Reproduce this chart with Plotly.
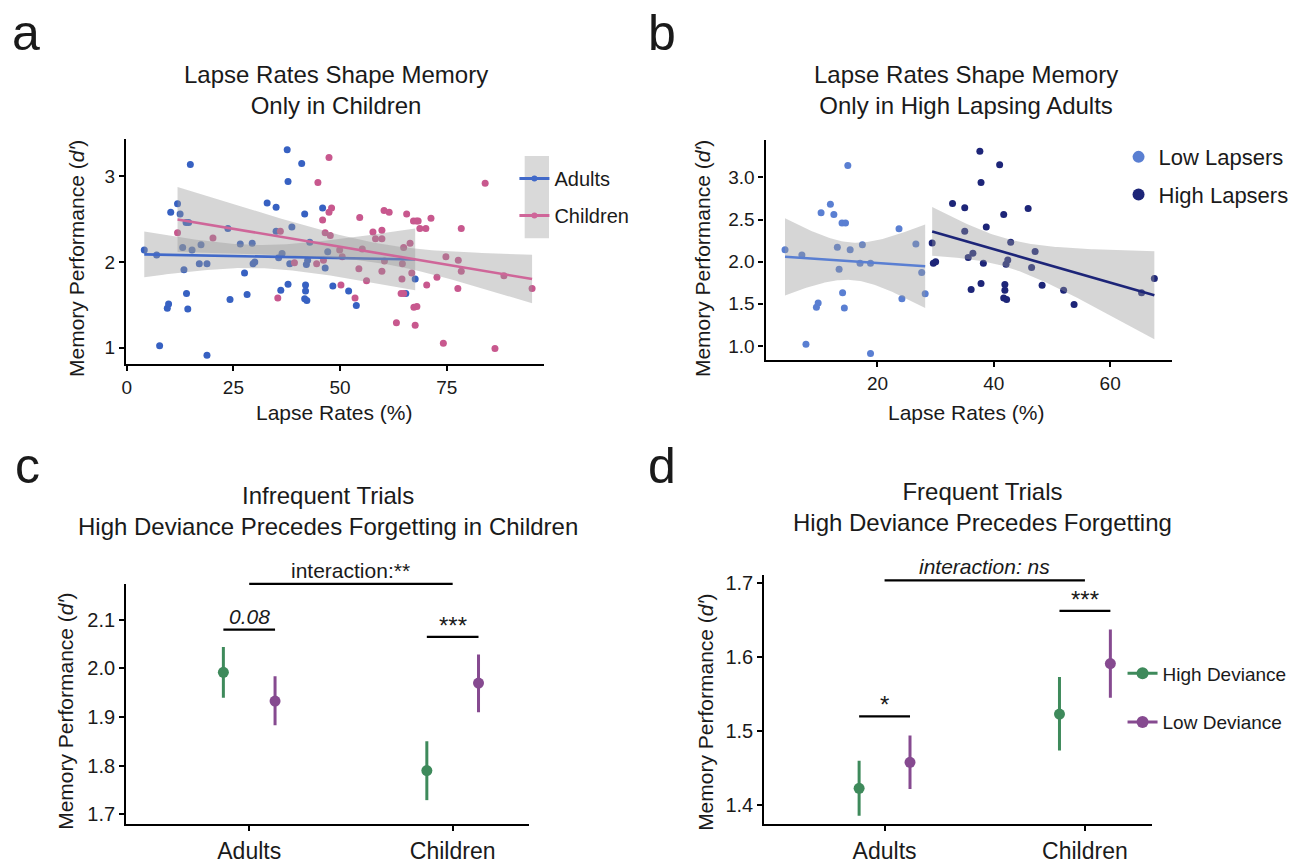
import numpy as np
import plotly.graph_objects as go

# ---------------- data ----------------
adult_lapse = [4.1, 7.0, 7.7, 9.5, 9.8, 10.3, 11.9, 12.5, 13.1, 13.4, 13.9, 14.5, 14.0, 14.3,
               14.9, 15.3, 17.0, 17.4, 18.8, 18.8, 23.7, 24.2, 26.6, 27.6, 28.2, 29.4, 29.6,
               30.0, 32.9, 35.0, 35.0, 35.6, 36.1, 36.4, 37.6, 37.8, 37.8, 38.2, 38.7, 41.0,
               41.7, 41.9, 41.9, 41.7, 42.2, 42.1, 42.4, 42.9, 45.9, 46.5, 47.1, 48.3, 52.0,
               53.8, 65.4, 67.6]
adult_dprime = [2.14, 2.08, 1.02, 1.46, 1.51, 2.58, 2.68, 2.56, 2.17, 1.91, 2.46, 2.46, 1.63, 1.45,
                3.14, 2.14, 1.98, 2.20, 1.98, 0.91, 2.39, 1.56, 2.21, 1.87, 1.62, 2.22, 1.98,
                2.00, 2.69, 2.64, 2.36, 2.05, 1.67, 2.10, 3.31, 2.94, 1.74, 1.98, 2.41, 3.15,
                2.56, 1.73, 1.66, 1.57, 1.55, 1.97, 2.02, 2.23, 2.63, 1.93, 2.12, 1.72, 1.66,
                1.49, 1.63, 1.80]

child_lapse = [11.9, 20.2, 36.0, 35.4, 39.3, 44.5, 44.8, 46.1, 45.9, 47.4, 46.5, 47.7, 47.4, 48.0,
               50.2, 49.9, 50.5, 53.5, 54.4, 54.6, 55.2, 56.2, 57.7, 58.3, 59.8, 59.8, 59.8,
               60.3, 61.5, 60.4, 63.2, 64.3, 64.5, 64.6, 64.9, 64.9, 65.6, 66.4, 66.8, 67.2,
               67.9, 68.3, 67.3, 68.0, 67.6, 68.7, 70.1, 71.3, 70.3, 72.7, 74.2, 74.8, 77.7,
               77.6, 78.4, 78.4, 84.0, 86.3, 88.4, 95.0]
child_dprime = [2.34, 2.28, 2.36, 1.58, 1.99, 1.98, 2.93, 2.02, 2.49, 3.22, 2.34, 2.31, 2.58, 2.63,
                1.73, 2.14, 2.06, 1.58, 1.92, 2.52, 2.15, 1.78, 2.35, 2.27, 2.37, 2.27, 1.89,
                2.60, 2.58, 2.01, 1.29, 1.63, 1.80, 1.98, 2.17, 1.63, 2.56, 2.22, 1.87, 2.48,
                2.48, 2.48, 1.47, 1.48, 1.26, 2.39, 2.39, 2.51, 1.73, 1.82, 1.05, 2.06, 2.02,
                1.69, 2.39, 1.89, 2.92, 0.99, 1.84, 1.69]

lapser_split = 28.8   # adults below this lapse rate are "Low Lapsers"

groups = ["Adults", "Children"]
deviance = ["High Deviance", "Low Deviance"]

# panel c (infrequent trials): mean, upper, lower per group
infreq_high = [1.992, 1.790]
infreq_high_hi = [2.044, 1.850]
infreq_high_lo = [1.940, 1.729]
infreq_low = [1.933, 1.970]
infreq_low_hi = [1.984, 2.029]
infreq_low_lo = [1.883, 1.910]

# panel d (frequent trials)
freq_high = [1.423, 1.523]
freq_high_hi = [1.460, 1.573]
freq_high_lo = [1.386, 1.474]
freq_low = [1.458, 1.591]
freq_low_hi = [1.494, 1.637]
freq_low_lo = [1.422, 1.545]

# significance brackets: (group_from, dev_from, group_to, dev_to, level, label, italic)
brackets_c = [(0, 0, 0, 1, 2.080, "0.08", True),
              (1, 0, 1, 1, 2.065, "***", False),
              (0, None, 1, None, 2.174, "interaction:**", False)]
brackets_d = [(0, 0, 0, 1, 1.520, "*", False),
              (1, 0, 1, 1, 1.662, "***", False),
              (0, None, 1, None, 1.703, "interaction: ns", True)]

# ---------------- style ----------------
W, H = 1297, 864
FONT = "Liberation Sans, Arial, Helvetica, sans-serif"
TXT = "#1a1a1a"
BLUE_A, PINK_A = "#3761c2", "#c8588e"
BLUE_AL, PINK_AL = "#4169c9", "#cf6699"
LOW_B, HIGH_B = "#5a7fd2", "#1d2578"
GREEN, PURPLE = "#3e8a5b", "#864a90"
BAND = "rgba(153,153,153,0.4)"
DODGE = 0.127


def X(px):
    return px / W


def Y(py):
    return 1 - py / H


def t975(df):
    z = 1.959964
    return (z + (z**3 + z) / (4 * df) + (5 * z**5 + 16 * z**3 + 3 * z) / (96 * df**2)
            + (3 * z**7 + 19 * z**5 + 17 * z**3 - 15 * z) / (384 * df**3))


def fit_band(x, y, n=100):
    x = np.asarray(x, float)
    y = np.asarray(y, float)
    b1, b0 = np.polyfit(x, y, 1)
    xs = np.linspace(x.min(), x.max(), n)
    yhat = b0 + b1 * xs
    resid = y - (b0 + b1 * x)
    dof = len(x) - 2
    s = np.sqrt(np.sum(resid**2) / dof)
    sxx = np.sum((x - x.mean())**2)
    se = s * np.sqrt(1 / len(x) + (xs - x.mean())**2 / sxx)
    t = t975(dof)
    return xs, yhat, yhat - t * se, yhat + t * se


fig = go.Figure()


def add_smooth(x, y, color, xa, ya):
    xs, yh, lo, hi = fit_band(x, y)
    fig.add_trace(go.Scatter(x=np.concatenate([xs, xs[::-1]]), y=np.concatenate([hi, lo[::-1]]),
                             fill="toself", fillcolor=BAND, line=dict(width=0), mode="lines",
                             hoverinfo="skip", showlegend=False, xaxis=xa, yaxis=ya))
    fig.add_trace(go.Scatter(x=xs, y=yh, mode="lines", line=dict(color=color, width=2.6),
                             showlegend=False, xaxis=xa, yaxis=ya))


# ---- panel a ----
fig.add_trace(go.Scatter(x=adult_lapse, y=adult_dprime, mode="markers",
                         marker=dict(color=BLUE_A, size=7), showlegend=False, xaxis="x", yaxis="y"))
fig.add_trace(go.Scatter(x=child_lapse, y=child_dprime, mode="markers",
                         marker=dict(color=PINK_A, size=7), showlegend=False, xaxis="x", yaxis="y"))
add_smooth(adult_lapse, adult_dprime, BLUE_AL, "x", "y")
add_smooth(child_lapse, child_dprime, PINK_AL, "x", "y")
for name, col in zip(groups, [BLUE_AL, PINK_AL]):
    fig.add_trace(go.Scatter(x=[None], y=[None], mode="lines+markers", name=name,
                             line=dict(color=col, width=3), marker=dict(color=col, size=6),
                             legend="legend", legendgroup=name, xaxis="x", yaxis="y"))

# ---- panel b ----
al = np.asarray(adult_lapse)
ad = np.asarray(adult_dprime)
low = al < lapser_split
fig.add_trace(go.Scatter(x=al[low], y=ad[low], mode="markers", name="Low Lapsers",
                         marker=dict(color=LOW_B, size=7), legend="legend2", legendgroup="low",
                         xaxis="x2", yaxis="y2"))
fig.add_trace(go.Scatter(x=al[~low], y=ad[~low], mode="markers", name="High Lapsers",
                         marker=dict(color=HIGH_B, size=7), legend="legend2", legendgroup="high",
                         xaxis="x2", yaxis="y2"))
add_smooth(al[low], ad[low], LOW_B, "x2", "y2")
add_smooth(al[~low], ad[~low], HIGH_B, "x2", "y2")


# ---- panels c, d ----
def add_pointrange(means, his, los, color, offset, xa, ya):
    xs = [i + 1 + offset for i in range(len(means))]
    fig.add_trace(go.Scatter(
        x=xs, y=means, mode="markers", marker=dict(color=color, size=11),
        error_y=dict(type="data", symmetric=False,
                     array=[h - m for h, m in zip(his, means)],
                     arrayminus=[m - l for m, l in zip(means, los)],
                     color=color, thickness=3, width=0),
        showlegend=False, xaxis=xa, yaxis=ya))


add_pointrange(infreq_high, infreq_high_hi, infreq_high_lo, GREEN, -DODGE, "x3", "y3")
add_pointrange(infreq_low, infreq_low_hi, infreq_low_lo, PURPLE, DODGE, "x3", "y3")
add_pointrange(freq_high, freq_high_hi, freq_high_lo, GREEN, -DODGE, "x4", "y4")
add_pointrange(freq_low, freq_low_hi, freq_low_lo, PURPLE, DODGE, "x4", "y4")
for name, col in zip(deviance, [GREEN, PURPLE]):
    fig.add_trace(go.Scatter(x=[None], y=[None], mode="lines+markers", name=name,
                             line=dict(color=col, width=3), marker=dict(color=col, size=12),
                             legend="legend3", legendgroup=name, xaxis="x4", yaxis="y4"))

# ---------------- axes ----------------
dom = {
    "a": ([122.3, 541.7], [136.7, 363.3]),
    "b": ([764.0, 1172.0], [138.3, 359.3]),
    "c": ([122.7, 527.0], [585.0, 826.7]),
    "d": ([762.7, 1152.0], [575.5, 826.7]),
}
rng = {
    "a": ([-0.2, 97.8], [0.81, 3.44]),
    "b": ([0.77, 70.7], [0.835, 3.44]),
    "c": ([0.396, 2.377], [1.68, 2.174]),
    "d": ([0.40, 2.337], [1.375, 1.711]),
}


def ax(domain, rng_, tickvals, ticktext=None, fmt=None, fs=19, anchor=None, vertical=False):
    d = dict(showline=True, linecolor="black", linewidth=2.3, ticks="outside", ticklen=5,
             tickwidth=1.5, tickcolor="black", showgrid=False, zeroline=False,
             range=rng_, tickvals=tickvals, tickfont=dict(family=FONT, size=fs, color=TXT),
             anchor=anchor, fixedrange=True)
    if vertical:
        d["domain"] = [Y(domain[1]), Y(domain[0])]
    else:
        d["domain"] = [X(domain[0]), X(domain[1])]
    if ticktext is not None:
        d["ticktext"] = ticktext
    if fmt:
        d["tickformat"] = fmt
    return d


fig.update_layout(
    xaxis=ax(dom["a"][0], rng["a"][0], [0, 25, 50, 75], anchor="y"),
    yaxis=ax(dom["a"][1], rng["a"][1], [1, 2, 3], anchor="x", vertical=True),
    xaxis2=ax(dom["b"][0], rng["b"][0], [20, 40, 60], anchor="y2"),
    yaxis2=ax(dom["b"][1], rng["b"][1], [1.0, 1.5, 2.0, 2.5, 3.0], fmt=".1f", anchor="x2", vertical=True),
    xaxis3=ax(dom["c"][0], rng["c"][0], [1, 2], ticktext=groups, fs=23, anchor="y3"),
    yaxis3=ax(dom["c"][1], rng["c"][1], [1.7, 1.8, 1.9, 2.0, 2.1], fmt=".1f", fs=20, anchor="x3", vertical=True),
    xaxis4=ax(dom["d"][0], rng["d"][0], [1, 2], ticktext=groups, fs=23, anchor="y4"),
    yaxis4=ax(dom["d"][1], rng["d"][1], [1.4, 1.5, 1.6, 1.7], fmt=".1f", fs=20, anchor="x4", vertical=True),
)


def ypaper(panel, v):
    (y_top, y_bot) = dom[panel][1]
    r0, r1 = rng[panel][1]
    return Y(y_bot) + (v - r0) / (r1 - r0) * (Y(y_top) - Y(y_bot))


shapes = []
annotations = []


def add_brackets(brs, panel, xref):
    for g0, d0, g1, d1, lvl, label, ital in brs:
        x0 = g0 + 1 + (0 if d0 is None else (-DODGE if d0 == 0 else DODGE))
        x1 = g1 + 1 + (0 if d1 is None else (-DODGE if d1 == 0 else DODGE))
        yp = ypaper(panel, lvl)
        shapes.append(dict(type="line", xref=xref, yref="paper", x0=x0, x1=x1, y0=yp, y1=yp,
                           line=dict(color="black", width=2.2)))
        txt = f"<i>{label}</i>" if ital else label
        stars = "interaction" not in label and "*" in label
        annotations.append(dict(text=txt, xref=xref, yref="paper", x=(x0 + x1) / 2, y=yp,
                                xanchor="center", yanchor="bottom", showarrow=False,
                                yshift=-4 if stars else 0,
                                font=dict(family=FONT, size=24 if stars else 21, color=TXT)))


add_brackets(brackets_c, "c", "x3")
add_brackets(brackets_d, "d", "x4")

# legend key background (panel a)
shapes.append(dict(type="rect", xref="paper", yref="paper", x0=X(522.3), x1=X(546.7),
                   y0=Y(237), y1=Y(154), fillcolor="#d9d9d9", line=dict(width=0), layer="below"))


def text(t, px, py, size, angle=0, anchor="center"):
    annotations.append(dict(text=t, xref="paper", yref="paper", x=X(px), y=Y(py),
                            xanchor=anchor, yanchor="middle", showarrow=False, textangle=angle,
                            font=dict(family=FONT, size=size, color=TXT)))


# panel letters
text("a", 22, 30, 50)
text("b", 660, 30, 50)
text("c", 24, 466, 50)
text("d", 660, 466, 50)
# titles
text("Lapse Rates Shape Memory<br>Only in Children", 333, 88, 24)
text("Lapse Rates Shape Memory<br>Only in High Lapsing Adults", 965, 88, 24)
text("Infrequent Trials<br>High Deviance Precedes Forgetting in Children", 325, 512, 24)
text("Frequent Trials<br>High Deviance Precedes Forgetting", 982, 508, 24)
# axis titles
YT = "Memory Performance (<i>d′</i>)"
text("Lapse Rates (%)", 331, 412, 21)
text("Lapse Rates (%)", 965, 412, 21)
text(YT, 72, 257, 21, angle=-90)
text(YT, 700, 257, 21, angle=-90)
text(YT, 61, 713, 21, angle=-90)
text(YT, 703, 714, 21, angle=-90)

leg_common = dict(bgcolor="rgba(0,0,0,0)", borderwidth=0, xanchor="left", yanchor="top",
                  traceorder="grouped")
fig.update_layout(
    width=W, height=H, margin=dict(l=0, r=0, t=0, b=0),
    paper_bgcolor="white", plot_bgcolor="white",
    shapes=shapes, annotations=annotations,
    legend=dict(x=X(512), y=Y(157), font=dict(family=FONT, size=20, color=TXT),
                tracegroupgap=8, itemsizing="trace", **leg_common),
    legend2=dict(x=X(1118), y=Y(134), font=dict(family=FONT, size=22, color=TXT),
                 tracegroupgap=6, itemsizing="constant", **leg_common),
    legend3=dict(x=X(1122), y=Y(656), font=dict(family=FONT, size=19, color=TXT),
                 tracegroupgap=21, itemsizing="trace", **leg_common),
)

fig.write_html("out.html", config={"displayModeBar": False},
               post_script="document.body.style.margin='0';document.body.style.overflow='hidden';")
